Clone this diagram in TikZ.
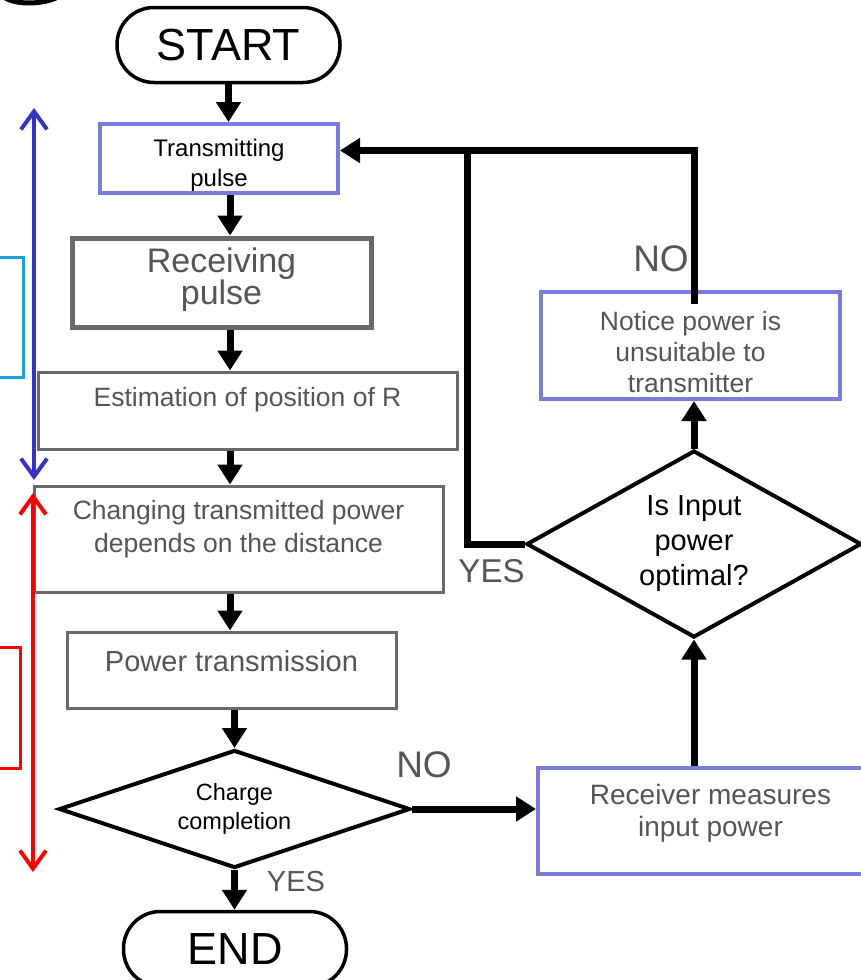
\documentclass[tikz,border=0pt]{standalone}
\usepackage{fontspec}
\setmainfont{Liberation Sans}
\usetikzlibrary{shapes.geometric,arrows.meta}
\definecolor{boxlav}{RGB}{123,123,222}
\definecolor{boxgray}{RGB}{105,105,105}
\definecolor{txtgray}{RGB}{85,85,85}
\definecolor{sideblue}{RGB}{51,51,204}
\definecolor{sidecyan}{RGB}{27,161,226}
\newcommand{\fs}[2]{\fontsize{#1}{#2}\selectfont}

\begin{document}
\begin{tikzpicture}[x=1pt,y=-1pt,every node/.style={inner sep=0pt},
  term/.style={draw,line width=3.5pt,rounded corners=37pt,minimum width=223pt,minimum height=75pt,font=\fs{45}{50}},
  lavbox/.style={draw=boxlav,line width=4pt,fill=white},
  graybox/.style={draw=boxgray,line width=3pt,fill=white},
  decision/.style={draw,diamond,line width=4pt,align=center,fill=white},
  flow/.style={line width=7pt,-{Triangle[length=20pt,width=24pt]}},
  side/.style={line width=4pt,line cap=round,{Straight Barb[length=18pt,width=26pt]}-{Straight Barb[length=18pt,width=26pt]}},
  gtxt/.style={text=txtgray,align=center}]
  \useasboundingbox (0,0) rectangle (861,980);
  \draw[line width=5pt] (4,-3) .. controls (15,5) and (42,5) .. (58,-3);

  \node[term] (start) at (228.5,45) {START};
  \node[lavbox,minimum width=238pt,minimum height=69pt,
    label={[font=\fs{24}{30},align=center,yshift=-6.5pt]center:Transmitting\\pulse}] (tx) at (219,158.5) {};
  \node[graybox,line width=5pt,minimum width=299pt,minimum height=89pt,
    label={[gtxt,font=\fs{34}{32},yshift=2.5pt]center:Receiving\\pulse}] (rx) at (221.5,282.5) {};
  \node[graybox,minimum width=419pt,minimum height=77pt,
    label={[gtxt,font=\fs{26.5}{30},yshift=11pt]center:Estimation of position of R}] (est) at (247.5,410.5) {};
  \node[graybox,minimum width=409pt,minimum height=106pt,
    label={[gtxt,font=\fs{26.5}{33},yshift=10pt]center:Changing transmitted power\\depends on the distance}] (chg) at (238.5,539) {};
  \node[graybox,minimum width=329pt,minimum height=76pt,
    label={[gtxt,font=\fs{29}{32},yshift=9pt]center:Power transmission}] (pw) at (231.5,670) {};
  \node[decision,shape aspect=3,minimum width=351pt,minimum height=118pt,font=\fs{23.5}{29}] (dc) at (234.5,809) {Charge\\completion};
  \node[term] (endn) at (235,949) {END};
  \node[lavbox,minimum width=345pt,minimum height=106pt,
    label={[gtxt,font=\fs{28}{32},yshift=8pt]center:Receiver measures\\input power}] (rm) at (710.5,821) {};
  \node[decision,shape aspect=1.8,minimum width=335pt,minimum height=187pt,font=\fs{29}{35}] (dq) at (694,544) {Is Input\\power\\optimal?};
  \node[lavbox,minimum width=299pt,minimum height=107pt,
    label={[gtxt,font=\fs{26.5}{31},yshift=-6.5pt]center:Notice power is\\unsuitable to\\transmitter}] (nt) at (690.5,345.5) {};

  \node[gtxt,font=\fs{37}{40}] (nolow) at (424,765) {NO};
  \node[gtxt,font=\fs{37}{40}] (nohigh) at (661,259) {NO};
  \node[gtxt,font=\fs{33}{36}] (yesright) at (491.5,571.5) {YES};
  \node[gtxt,font=\fs{29}{32}] (yeslow) at (296,882) {YES};

  \coordinate (spine) at (230,0);
  \coordinate (yesjoin) at (467,150.5);
  \draw[flow] (start.south) -- (start.south |- tx.north);
  \draw[flow] (tx.south -| spine) -- (rx.north -| spine);
  \draw[flow] (rx.south -| spine) -- (est.north -| spine);
  \draw[flow] (est.south -| spine) -- (chg.north -| spine);
  \draw[flow] (chg.south -| spine) -- (pw.north -| spine);
  \draw[flow] (pw.south -| dc) -- (dc.north);
  \draw[flow] (dc.south) -- (endn.north -| dc);
  \draw[flow] (dc.east) -- (dc.east -| rm.west);
  \draw[flow] (rm.north -| dq) -- (dq.south);
  \draw[flow] (dq.north) -- (dq.north |- nt.south);
  \draw[flow] ([yshift=-14pt]nt.north -| dq) |- ([yshift=8pt]tx.east);
  \draw[line width=7pt] (dq.west) -| (yesjoin);

  \draw[sidecyan,line width=3pt] (-5,257) rectangle (23,377);
  \draw[red,line width=3pt] (-5,647) rectangle (20,768);
  \draw[side,sideblue] (34,108) -- (34,480);
  \draw[side,red] (33,493) -- (33,872);
\end{tikzpicture}
\end{document}
